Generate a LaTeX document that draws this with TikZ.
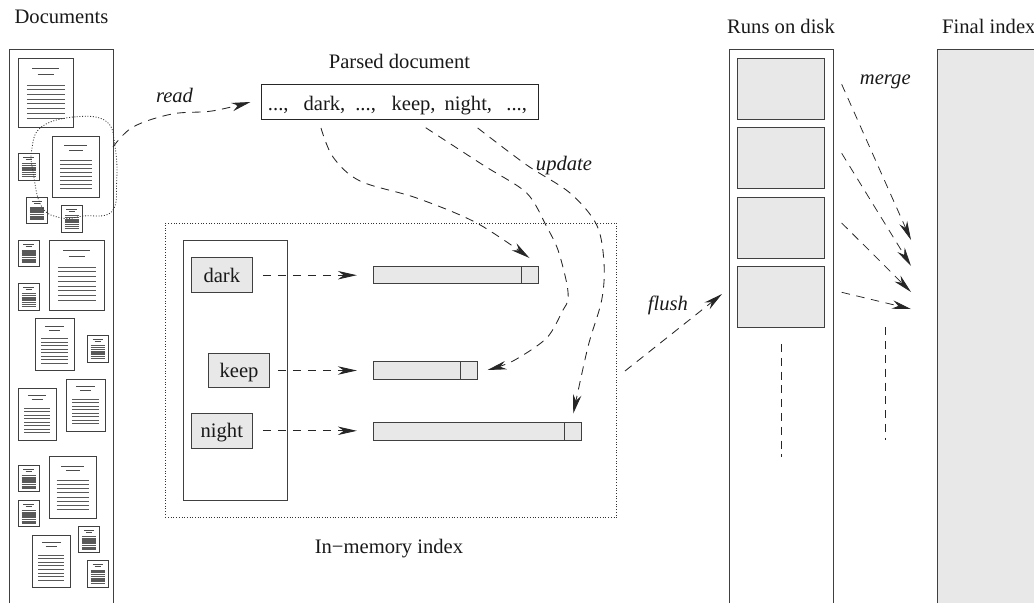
\documentclass[tikz,border=0pt]{standalone}
\usepackage{fontspec}
\setmainfont{Liberation Serif}
\usetikzlibrary{arrows.meta}

\definecolor{inkline}{gray}{0.25}
\definecolor{boxfill}{gray}{0.91}

\tikzset{
    every node/.style={font=\fontsize{20.6}{24}\selectfont, inner sep=0pt, text=black!90},
    frameline/.style={line width=.9pt, color=inkline},
    termbox/.style={draw=inkline, line width=.9pt, fill=boxfill, minimum width=61pt, minimum height=34.6pt, text height=13.6pt, text depth=0pt},
    barbox/.style={draw=inkline, line width=.9pt, fill=boxfill, minimum height=17.4pt},
    runbox/.style={draw=inkline, line width=.9pt, fill=boxfill, minimum width=86.6pt, minimum height=61pt},
    flowline/.style={line width=.85pt, color=black!85, dash pattern=on 8.5pt off 6.5pt, ->},
    caption/.style={anchor=base},
    verb/.style={anchor=base, font=\fontsize{20.6}{24}\selectfont\itshape},
}

% one page icon: corners, then look of the text rows
\newcommand{\docpage}[5]{%
    \pgfmathsetmacro{\pagew}{#3-#1}
    \pgfmathsetmacro{\pageh}{#4-#2}
    \begin{scope}[shift={(#1,#2)}, xscale=\pagew, yscale=\pageh]
        \draw[frameline] (0,0) rectangle (1,1);
        \draw[line width=.8pt, color=black!70] (.25,.15) -- (.74,.15);
        \draw[line width=.8pt, color=black!70] (.35,.225) -- (.64,.225);
        \foreach \i in {0,...,7}
            \draw[#5] (.155,.385+\i*.068) -- (.835,.385+\i*.068);
    \end{scope}
}

\begin{document}
\begin{tikzpicture}[x=1pt, y=-1pt, >={Stealth[length=19pt, width=8.5pt, inset=6pt]}]
    \useasboundingbox (0,0) rectangle (1034,603);
    % =========================
    \node[caption] (lbldocs) at (61.5,23.7) {Documents};
    \node[caption] (lblparsed) at (399.5,68.5) {Parsed document};
    \node[caption] (lblruns) at (781,33.5) {Runs on disk};
    \node[anchor=base west] (lblfinal) at (942,33.5) {Final index};
    \node[caption] (lblmemory) at (389,553) {In−memory index};

    % documents column
    \draw[frameline] (9.4,603) |- (113.3,49.5) -- (113.3,603);
    \foreach \xa/\ya/\xb/\yb in {18.3/58.3/73.7/127.7, 52.7/136.7/99.3/197.3, 49.3/240.3/104.7/310,
        35.3/318.3/74/370.7, 18.3/388/56.3/440, 66.3/379/105/431, 49.3/456.7/96.7/518, 32.3/535/70.7/587.3}
        \docpage{\xa}{\ya}{\xb}{\yb}{line width=.8pt, color=black!65};
    \foreach \xa/\ya/\xb/\yb in {18.3/153.3/39/180, 26.7/197.3/47.3/223.3, 61.3/205.3/82/232,
        18.3/240.3/39/266.3, 18.3/283.3/39/310, 87.3/335.7/108.3/362, 18.3/465.3/39/491.7,
        18.3/500.3/39/526.7, 78.7/526.3/99.7/552.7, 87.3/560.7/108.3/587.3}
        \docpage{\xa}{\ya}{\xb}{\yb}{line width=1.3pt, color=black!65};
    \draw[line width=.8pt, color=black!80, dash pattern=on 1pt off 1.7pt] plot[smooth cycle, tension=.7] coordinates
        {(41.7,126.7) (76.7,116.7) (106.7,121.7) (115,146.7) (116.7,180) (111.7,211.7) (83.3,216) (61.7,218) (41.7,206.7) (33.3,173) (31.7,150)};

    % parsed document
    \node[draw=black!85, line width=.9pt, minimum width=277.7pt, minimum height=35pt] (parsed) at (399.8,101.8) {};
    \node[anchor=base] (parsedtext) at (397.5,110) {...,\hspace{15pt}dark,\hspace{10pt}...,\hspace{15.7pt}keep,\hspace{9pt}night,\hspace{14.3pt}...,};

    % in-memory index
    \node[draw=black!80, line width=.8pt, dash pattern=on 1pt off 1.7pt, minimum width=451.4pt, minimum height=294.4pt] (memory) at (391,370.5) {};
    \node[draw=inkline, line width=.9pt, minimum width=104pt, minimum height=259.6pt] (dict) at (235,370.5) {};
    \node[termbox] (dark) at (221.8,275.2) {dark};
    \node[termbox] (keep) at (239,370.5) {keep};
    \node[termbox] (night) at (221.8,430.8) {night};

    \node[barbox, minimum width=165.4pt] (postdark) at (456,275) {};
    \node[barbox, minimum width=104.4pt] (postkeep) at (425.5,370.4) {};
    \node[barbox, minimum width=208.4pt] (postnight) at (477.5,431.4) {};
    \draw[frameline] (521.3,0 |- postdark.north) -- (521.3,0 |- postdark.south);
    \draw[frameline] (460.3,0 |- postkeep.north) -- (460.3,0 |- postkeep.south);
    \draw[frameline] (564.3,0 |- postnight.north) -- (564.3,0 |- postnight.south);

    \draw[flowline, shorten <=10pt, shorten >=16pt] (dark.east) -- (postdark.west |- dark.east);
    \draw[flowline, shorten <=8pt, shorten >=16pt] (keep.east) -- (postkeep.west |- keep.east);
    \draw[flowline, shorten <=10pt, shorten >=16pt] (night.east) -- (postnight.west |- night.east);

    % runs on disk
    \draw[frameline] (729.3,603) |- (833.3,49.5) -- (833.3,603);
    \foreach \name/\ymid in {runa/88.8, runb/158, runc/227.5, rund/296.7}
        \node[runbox] (\name) at (781,\ymid) {};
    \draw[line width=.8pt, color=black!85, dash pattern=on 8pt off 5.8pt] (rund.south |- 0,344) -- (rund.south |- 0,457);

    % final index
    \fill[boxfill] (937.3,49.5) rectangle (1034,603);
    \draw[frameline] (937.3,603) |- (1034,49.5);

    % =========================
    \coordinate (readfrom) at (113,147);
    \coordinate (readto) at (250.5,102);
    \coordinate (darkfrom) at (321,128);
    \coordinate (darkto) at (529.5,258);
    \coordinate (keepfrom) at (425.7,127.7);
    \coordinate (keepto) at (487.5,370);
    \coordinate (nightfrom) at (477.7,128);
    \coordinate (nightto) at (573.3,413.5);
    \coordinate (flushfrom) at (625,371);
    \coordinate (flushto) at (722,294);
    \foreach \name/\yfrom/\yto in {mergea/84.3/240, mergeb/153.3/266, mergec/223/292, merged/292.3/309} {
        \coordinate (\name from) at (841.7,\yfrom);
        \coordinate (\name to) at (911,\yto);
        \draw[flowline, line width=.75pt] (\name from) -- (\name to);
    }

    \draw[flowline] plot[smooth, tension=.6] coordinates {(readfrom) (133,127) (172,114) (212,111) (readto)};
    \draw[flowline] plot[smooth, tension=.55] coordinates {(darkfrom) (333,157) (360,181) (416.7,198) (476.7,223) (darkto)};
    \draw[flowline] plot[smooth, tension=.5] coordinates {(keepfrom) (483,165) (526.7,193) (546.7,226.7) (558,250) (566.7,283) (568,300) (563,310) (546.7,338) (513,361) (keepto)};
    \draw[flowline] plot[smooth, tension=.55] coordinates {(nightfrom) (526.7,165) (570,193) (596.7,225) (604,263) (601.7,300) (588,346.7) (nightto)};
    \draw[flowline] (flushfrom) -- (flushto);

    \draw[line width=.8pt, color=black!85, dash pattern=on 8pt off 5.8pt] (885.3,327.3) -- (885.3,439.5);

    \node[verb] (lblread) at (174.5,102.5) {read};
    \node[verb] (lblupdate) at (564,170.5) {update};
    \node[verb] (lblflush) at (668,310) {flush};
    \node[verb] (lblmerge) at (885.3,84) {merge};
\end{tikzpicture}
\end{document}
